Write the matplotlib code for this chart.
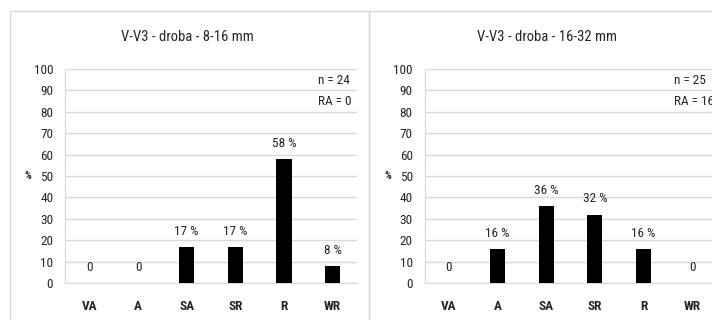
import matplotlib
matplotlib.use('Agg')
import matplotlib.pyplot as plt
from matplotlib import font_manager
from matplotlib.patches import Rectangle

dostupne = {f.name for f in font_manager.fontManager.ttflist}
pismo = 'Liberation Sans'
for kandidat in ['Liberation Sans Narrow', 'Roboto Condensed', 'Open Sans Condensed']:
    if kandidat in dostupne:
        pismo = kandidat
        break
plt.rcParams['font.family'] = [pismo, 'DejaVu Sans']
uzke = pismo != 'Liberation Sans'

kategorie = ['VA', 'A', 'SA', 'SR', 'R', 'WR']
hodnoty_8_16 = [0, 0, 17, 17, 58, 8]
hodnoty_16_32 = [0, 16, 36, 32, 16, 0]
nazvy = ['V-V3 - droba - 8-16 mm', 'V-V3 - droba - 16-32 mm']
n_vzorku = [24, 25]
ra_hodnoty = [0, 16]

text_barva = '#262626'
mriz_barva = '#d9d9d9'
fs = 9.5 if uzke else 8.5

W, H = 712, 320
fig = plt.figure(figsize=(W / 100, H / 100), dpi=100)

# ramecky grafu
for x0, sirka in [(10, 359), (369, 400)]:
    fig.patches.append(Rectangle((x0 / W, -0.1), sirka / W, (H - 11) / H + 0.1,
                                 transform=fig.transFigure, fill=False,
                                 edgecolor=mriz_barva, linewidth=1.0))

# (levy okraj v px, data, nazev, n, RA, x popisku n/RA)
panely = [
    (65, hodnoty_8_16, nazvy[0], n_vzorku[0], ra_hodnoty[0], 0.868),
    (424.5, hodnoty_16_32, nazvy[1], n_vzorku[1], ra_hodnoty[1], 0.853),
]

for levy, hodnoty, nazev, n, ra, x_info in panely:
    ax = fig.add_axes([levy / W, 37 / H, 292 / W, 214 / H])
    x = list(range(len(kategorie)))
    ax.bar(x, hodnoty, width=0.31, color='black', zorder=3)
    ax.set_xlim(-0.5, len(kategorie) - 0.5)
    ax.set_ylim(0, 100)
    ax.set_yticks(range(0, 101, 10))
    ax.set_xticks(x)
    ax.set_xticklabels(kategorie, fontweight='bold')
    ax.tick_params(axis='both', length=0, labelsize=fs, colors=text_barva)
    ax.tick_params(axis='y', pad=8.5)
    ax.tick_params(axis='x', pad=12)
    ax.grid(axis='y', color=mriz_barva, linewidth=1.0, zorder=0)
    for s in ['top', 'right']:
        ax.spines[s].set_visible(False)
    ax.spines['left'].set_color(mriz_barva)
    ax.spines['bottom'].set_color(mriz_barva)

    for xi, v in zip(x, hodnoty):
        popis = '0' if v == 0 else f'{v} %'
        ax.annotate(popis, (xi, v), xytext=(0, 6.5), textcoords='offset points',
                    ha='center', va='bottom', fontsize=fs, color=text_barva)

    ax.text(x_info, 0.944, f'n = {n}', transform=ax.transAxes, ha='left',
            va='center', fontsize=fs, color=text_barva)
    ax.text(x_info, 0.846, f'RA = {ra}', transform=ax.transAxes, ha='left',
            va='center', fontsize=fs, color=text_barva)
    ax.text(-37 / 292, 0.5, '%', transform=ax.transAxes, ha='center',
            va='center', fontsize=fs - 2, fontweight='bold', color=text_barva)
    ax.text(0.42, 1.0 + 32 / 214, nazev, transform=ax.transAxes, ha='center',
            va='center', fontsize=fs + 1, color=text_barva)

fig.savefig('out.png', dpi=100)
